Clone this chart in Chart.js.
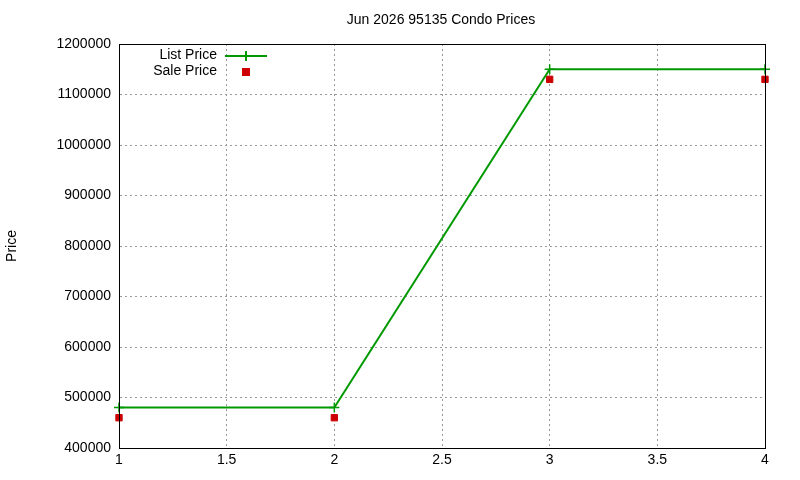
<!DOCTYPE html>
<html><head><script src="https://cdn.jsdelivr.net/npm/chart.js"></script>
<style>body{margin:0;background:#fff}#w{width:800px;height:480px}</style></head>
<body><div id="w"><canvas id="c" width="800" height="480"></canvas></div>
<script>
const xValues = [1, 2, 3, 4];
const listPrice = [480000, 480000, 1150000, 1150000];
const salePrice = [460000, 460000, 1130000, 1130000];
const chartTitle = "Jun 2026 95135 Condo Prices";
const yLabel = "Price";
const legendLabels = ["List Price", "Sale Price"];
const FONT = "'Liberation Sans', Arial, sans-serif";

const overlay = {
  id: 'overlay',
  afterDraw(ch) {
    const c = ch.ctx, a = ch.chartArea;
    c.save();
    c.strokeStyle = '#000'; c.lineWidth = 1;
    c.strokeRect(a.left + 0.5, a.top + 0.5, a.right - a.left, a.bottom - a.top);
    c.fillStyle = '#000'; c.font = '14px ' + FONT;
    c.textAlign = 'center'; c.textBaseline = 'middle';
    c.fillText(chartTitle, 441, 20);
    c.save(); c.translate(12, 246); c.rotate(-Math.PI / 2); c.fillText(yLabel, 0, 0); c.restore();
    c.textAlign = 'right';
    c.fillText(legendLabels[0], 217, 55);
    c.fillText(legendLabels[1], 217, 71);
    c.strokeStyle = '#009900'; c.lineWidth = 2;
    c.beginPath(); c.moveTo(225, 56); c.lineTo(267, 56); c.moveTo(246, 51); c.lineTo(246, 61); c.stroke();
    c.fillStyle = '#cc0000'; c.fillRect(242, 68, 8, 8);
    c.restore();
  }
};

new Chart(document.getElementById('c'), {
  type: 'line',
  data: { datasets: [
    { label: legendLabels[0], data: xValues.map((x, i) => ({x, y: listPrice[i]})),
      borderColor: '#009900', backgroundColor: '#009900', borderWidth: 2, clip: false,
      pointStyle: 'cross', pointRadius: 5, pointBorderWidth: 1.5, tension: 0 },
    { label: legendLabels[1], data: xValues.map((x, i) => ({x, y: salePrice[i]})),
      showLine: false, borderColor: '#cc0000', backgroundColor: '#cc0000', clip: false,
      pointStyle: 'rect', pointRadius: 4.5 }
  ]},
  options: {
    responsive: false, animation: false,
    layout: { padding: { top: 44, right: 35, left: 0, bottom: 0 } },
    plugins: { legend: { display: false }, tooltip: { enabled: false } },
    scales: {
      x: { type: 'linear', min: 1, max: 4,
        ticks: { stepSize: 0.5, color: '#000', font: { size: 14, family: FONT }, padding: 4,
          callback: v => String(v) },
        grid: { color: '#999', drawTicks: false },
        border: { dash: [2, 3] },
        afterFit(s) { s.height = 32; } },
      y: { min: 400000, max: 1200000,
        ticks: { stepSize: 100000, color: '#000', font: { size: 14, family: FONT }, padding: 8,
          callback: v => String(v) },
        grid: { color: '#999', drawTicks: false },
        border: { dash: [2, 3] },
        afterFit(s) { s.width = 119; } }
    }
  },
  plugins: [overlay]
});
</script></body></html>
